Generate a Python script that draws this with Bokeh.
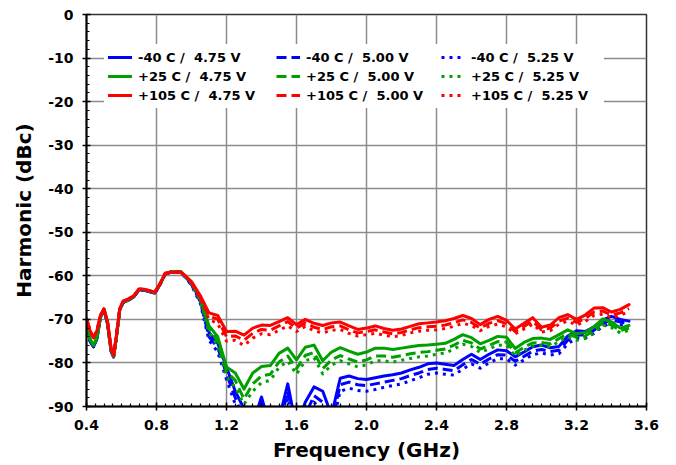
from bokeh.plotting import figure
from bokeh.models import Legend, LegendItem, SingleIntervalTicker, PrintfTickFormatter, Range1d
from bokeh.embed import file_html
from bokeh.resources import INLINE

# ---------------- data ----------------
low_f = [0.40, 0.42, 0.44, 0.46, 0.48, 0.50, 0.52, 0.54, 0.555, 0.57, 0.59, 0.61,
         0.64, 0.67, 0.70, 0.73, 0.76, 0.79, 0.82, 0.85, 0.88, 0.91, 0.94, 0.97]
low_red = [-69.8, -72.5, -74.2, -72.5, -69.0, -67.6, -70.5, -76.5, -78.3, -74.0, -67.5, -65.8,
           -65.3, -64.6, -63.0, -63.1, -63.4, -63.8, -61.8, -59.4, -59.2, -59.1, -59.2, -60.2]
low_green = [-70.3, -74.5, -76.0, -74.0, -69.3, -67.7, -70.8, -77.0, -78.5, -74.2, -67.7, -66.0,
             -65.5, -64.7, -63.1, -63.2, -63.5, -63.9, -61.9, -59.5, -59.1, -59.0, -59.1, -60.3]
low_blue = [-70.5, -75.0, -76.3, -74.3, -69.5, -67.8, -71.0, -77.3, -78.6, -74.3, -67.8, -66.1,
            -65.6, -64.8, -63.2, -63.3, -63.6, -64.0, -62.0, -59.6, -59.2, -59.1, -59.2, -60.5]

hi_f = [1.00, 1.05, 1.10, 1.15, 1.20, 1.25, 1.30, 1.35, 1.40, 1.45, 1.50, 1.55, 1.60, 1.65,
        1.70, 1.75, 1.80, 1.85, 1.90, 1.95, 2.00, 2.05, 2.10, 2.15, 2.20, 2.25, 2.30, 2.35,
        2.40, 2.45, 2.50, 2.55, 2.60, 2.65, 2.70, 2.75, 2.80, 2.85, 2.90, 2.95, 3.00, 3.05,
        3.10, 3.15, 3.20, 3.25, 3.30, 3.35, 3.40, 3.45, 3.50]

red_475 = [-61.3, -64.5, -68.5, -69.1, -72.8, -72.7, -73.6, -72.0, -71.3, -71.4, -70.5, -69.6,
           -71.2, -70.0, -70.9, -71.4, -70.8, -70.6, -71.5, -72.3, -72.0, -71.5, -72.1, -72.5,
           -72.2, -71.6, -71.0, -70.8, -70.6, -70.3, -69.8, -69.1, -69.8, -71.2, -70.0, -69.3,
           -70.2, -72.2, -70.9, -69.6, -71.8, -71.3, -69.6, -68.9, -70.0, -69.0, -67.4, -67.3,
           -68.3, -67.7, -66.6]
red_500 = [-61.5, -64.9, -69.2, -70.0, -74.0, -73.8, -74.8, -73.2, -72.3, -72.5, -71.5, -70.5,
           -72.0, -70.8, -71.8, -72.3, -71.7, -71.5, -72.4, -73.1, -72.8, -72.4, -72.9, -73.3,
           -73.0, -72.4, -71.9, -71.7, -71.6, -71.3, -70.8, -70.1, -70.7, -72.0, -70.9, -70.3,
           -71.0, -72.8, -71.6, -70.4, -72.4, -72.0, -70.4, -69.7, -70.7, -69.8, -68.3, -68.1,
           -69.0, -68.5, -67.5]
red_525 = [-61.7, -65.3, -70.0, -71.0, -75.0, -74.8, -76.0, -74.3, -73.3, -73.5, -72.5, -71.5,
           -72.8, -71.6, -72.6, -73.1, -72.5, -72.3, -73.2, -73.8, -73.5, -73.2, -73.6, -74.0,
           -73.7, -73.1, -72.7, -72.5, -72.4, -72.1, -71.6, -70.9, -71.4, -72.6, -71.6, -71.1,
           -71.7, -73.3, -72.2, -71.1, -72.9, -72.6, -71.1, -70.4, -71.3, -70.5, -69.1, -68.8,
           -69.6, -69.1, -68.2]

green_475 = [-61.5, -65.0, -71.5, -74.0, -80.9, -82.3, -86.0, -82.3, -80.8, -80.6, -77.8, -76.6,
             -79.3, -76.4, -75.9, -79.5, -77.5, -76.5, -77.3, -78.0, -77.5, -76.6, -76.6, -76.9,
             -76.6, -76.3, -76.0, -75.9, -75.7, -75.5, -74.6, -73.5, -74.2, -75.6, -74.8, -73.9,
             -74.1, -76.7, -75.3, -74.4, -74.3, -74.6, -73.5, -72.4, -73.3, -73.0, -71.7, -69.9,
             -70.6, -72.0, -71.4]
green_500 = [-61.7, -65.4, -72.2, -75.0, -82.0, -84.0, -88.3, -84.8, -83.0, -82.6, -79.8, -78.4,
             -81.3, -78.3, -77.6, -81.3, -79.3, -78.3, -79.1, -79.8, -79.3, -78.4, -78.4, -78.7,
             -78.3, -77.9, -77.6, -77.4, -77.1, -76.8, -75.9, -74.8, -75.4, -76.8, -76.0, -75.1,
             -75.2, -77.7, -76.4, -75.4, -75.3, -75.6, -74.4, -73.3, -74.1, -73.8, -72.5, -70.7,
             -71.3, -72.6, -72.0]
green_525 = [-61.9, -65.8, -73.0, -76.0, -83.2, -85.6, -89.5, -86.5, -84.5, -84.0, -81.0, -79.6,
             -82.6, -79.5, -78.8, -82.5, -80.5, -79.5, -80.2, -80.9, -80.4, -79.5, -79.5, -79.8,
             -79.4, -79.0, -78.6, -78.4, -78.0, -77.7, -76.8, -75.7, -76.2, -77.6, -76.8, -75.9,
             -76.0, -78.4, -77.1, -76.1, -76.0, -76.3, -75.1, -74.0, -74.8, -74.4, -73.1, -71.3,
             -71.9, -73.1, -72.5]

blue_475 = [-61.8, -65.5, -73.0, -75.5, -81.0, -86.5, -90.5, -94.0, -87.8, -95.0, -93.0, -84.8,
            -95.0, -89.0, -85.5, -86.5, -92.0, -83.5, -83.0, -83.6, -83.8, -83.4, -83.0, -82.7,
            -82.3, -81.6, -81.0, -80.2, -80.0, -80.3, -80.6, -79.2, -78.0, -79.2, -78.0, -77.0,
            -77.2, -78.6, -77.5, -76.3, -75.9, -76.5, -76.2, -73.8, -72.6, -72.8, -71.7, -70.1,
            -69.3, -70.0, -70.4]
blue_500 = [-62.0, -65.9, -74.0, -76.5, -82.5, -88.0, -93.0, -95.0, -88.5, -95.0, -95.0, -86.5,
            -95.0, -92.0, -87.5, -89.0, -94.0, -85.0, -84.4, -85.0, -85.2, -84.8, -84.4, -84.0,
            -83.6, -82.9, -82.3, -81.5, -81.2, -81.5, -81.8, -80.4, -79.2, -80.3, -79.1, -78.1,
            -78.2, -79.6, -78.5, -77.3, -76.9, -77.4, -77.1, -74.8, -73.5, -73.6, -72.5, -70.9,
            -70.1, -70.6, -71.0]
blue_525 = [-62.2, -66.3, -74.8, -77.5, -83.8, -89.5, -95.0, -95.0, -89.3, -95.0, -95.0, -88.0,
            -95.0, -95.0, -89.0, -91.0, -95.0, -86.5, -85.8, -86.3, -86.5, -86.1, -85.6, -85.2,
            -84.8, -84.1, -83.4, -82.6, -82.3, -82.6, -82.8, -81.4, -80.2, -81.2, -80.0, -79.0,
            -79.1, -80.5, -79.3, -78.1, -77.7, -78.2, -77.9, -75.6, -74.3, -74.3, -73.2, -71.6,
            -70.8, -71.2, -71.5]

labels = [
    ["-40 C /  4.75 V", "+25 C /  4.75 V", "+105 C /  4.75 V"],
    ["-40 C /  5.00 V", "+25 C /  5.00 V", "+105 C /  5.00 V"],
    ["-40 C /  5.25 V", "+25 C /  5.25 V", "+105 C /  5.25 V"],
]

# ---------------- styling ----------------
FONT = "DejaVu Sans"
BLUE, GREEN, RED = "#0000FF", "#00A000", "#FF0000"

p = figure(width=666, height=464, x_range=Range1d(0.4, 3.6), y_range=Range1d(-90, 0),
           output_backend="svg", toolbar_location=None,
           min_border_left=86, min_border_top=14, min_border_right=20, min_border_bottom=10)
p.background_fill_color = "white"
p.border_fill_color = "white"
p.outline_line_color = "#333333"
p.outline_line_width = 1.5

p.xaxis.ticker = SingleIntervalTicker(interval=0.4, num_minor_ticks=8)
p.yaxis.ticker = SingleIntervalTicker(interval=10, num_minor_ticks=5)
p.xaxis.formatter = PrintfTickFormatter(format="%.1f")
p.yaxis.formatter = PrintfTickFormatter(format="%d")
p.xaxis.axis_label = "Frequency (GHz)"
p.yaxis.axis_label = "Harmonic (dBc)"
for ax in p.axis:
    ax.axis_line_width = 2
    ax.axis_line_color = "black"
    ax.major_tick_line_width = 1.5
    ax.minor_tick_line_width = 1.2
    ax.major_tick_in = 4
    ax.major_tick_out = 4
    ax.minor_tick_in = 3
    ax.minor_tick_out = 0
    ax.major_label_text_font = FONT
    ax.major_label_text_font_style = "bold"
    ax.major_label_text_font_size = "14px"
    ax.major_label_text_color = "black"
    ax.axis_label_text_font = FONT
    ax.axis_label_text_font_style = "bold"
    ax.axis_label_text_font_size = "20px"
    ax.axis_label_text_color = "black"
p.xaxis.major_label_standoff = 9
p.xaxis.axis_label_standoff = 5
p.yaxis.major_label_standoff = 9
p.yaxis.axis_label_standoff = 9

p.grid.grid_line_color = "#8c8c8c"
p.grid.grid_line_width = 1.5

# ---------------- lines ----------------
dashes = ["solid", "10 5", "3 5"]
series = [
    (BLUE, [low_blue + blue_475, low_blue + blue_500, low_blue + blue_525]),
    (GREEN, [low_green + green_475, low_green + green_500, low_green + green_525]),
    (RED, [low_red + red_475, low_red + red_500, low_red + red_525]),
]
xs = low_f + hi_f
renderers = [[None] * 3 for _ in range(3)]  # [voltage][temp]
for ti, (color, ys_list) in enumerate(series):
    for vi in (2, 1, 0):
        r = p.line(xs, ys_list[vi], line_color=color, line_width=3,
                   line_dash=dashes[vi], line_join="round",
                   line_cap="butt" if vi else "round")
        renderers[vi][ti] = r

# ---------------- legends ----------------
leg_x = [18, 186, 351]          # left edges relative to frame (px)
leg_lw = [130, 127, 129]        # label widths
for vi in range(3):
    items = [LegendItem(label=labels[vi][ti], renderers=[renderers[vi][ti]]) for ti in range(3)]
    leg = Legend(items=items, location=(leg_x[vi], 298), orientation="vertical",
                 padding=4, margin=0, spacing=1, glyph_width=24, glyph_height=18,
                 label_height=18, label_width=leg_lw[vi], label_standoff=6,
                 label_text_font=FONT, label_text_font_style="bold",
                 label_text_font_size="13px", label_text_color="black",
                 border_line_alpha=0, background_fill_color="white", background_fill_alpha=1.0)
    p.add_layout(leg)

open("out.html", "w").write(file_html(p, INLINE))
